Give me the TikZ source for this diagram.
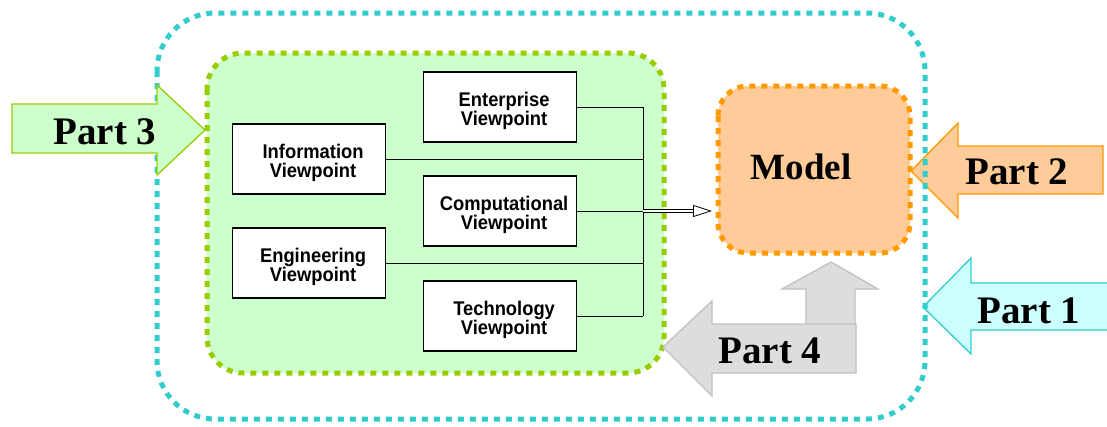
\documentclass[tikz,border=0pt]{standalone}
\usepackage{fontspec}
\usepackage{graphicx}
\setmainfont{Liberation Serif}
\newfontfamily\vpfont{Liberation Sans}
\usetikzlibrary{arrows.meta}

\definecolor{framecyan}{HTML}{33CCCC}
\definecolor{grnline}{HTML}{99CC00}
\definecolor{grnfill}{HTML}{CCFFCC}
\definecolor{orgline}{HTML}{FF9900}
\definecolor{orgfill}{HTML}{FFCC99}
\definecolor{cyanfill}{HTML}{CCFFFF}
\definecolor{greyfill}{HTML}{DDDDDD}
\definecolor{greyline}{HTML}{C0C0C0}

% two-line viewpoint caption, set slightly tall and a little below and right of centre
\newcommand{\vptext}[2]{\raisebox{-4.5pt}[\height][\depth]{\scalebox{1.02}[1.1]{%
  \begin{tabular}{@{\hspace{8pt}}c@{}}#1\\#2\end{tabular}}}}

\tikzset{
  dotframe/.style={line width=5pt, dash pattern=on 6pt off 6pt},
  bigarrow/.style={line width=1.3pt, line join=miter},
  partlabel/.style={font=\bfseries\fontsize{39}{40}\selectfont, anchor=base, inner sep=0pt},
  viewbox/.style={draw=black, fill=white, line width=1.3pt, minimum width=153pt,
    minimum height=70pt, inner sep=0pt, align=center,
    font=\vpfont\bfseries\fontsize{18}{16.5}\selectfont},
  wire/.style={draw=black, line width=0.9pt}
}

\begin{document}
\begin{tikzpicture}[x=1pt, y=-1pt]
\useasboundingbox (0,0) rectangle (1107,426);
\clip (0,0) rectangle (1107,426);

% incoming arrows from the right
\draw[bigarrow, draw=framecyan, fill=cyanfill]
  (1115,283) -- (971,283) -- (971,258) -- (923,307) -- (971,354) -- (971,330) -- (1115,330) -- cycle;
\draw[bigarrow, draw=orgline, fill=orgfill]
  (1103,146) -- (958,146) -- (958,123) -- (911,171) -- (958,218) -- (958,194) -- (1103,194) -- cycle;

% outer frame
\draw[dotframe, draw=framecyan, rounded corners=58pt] (157,13) rectangle (925,419);

% Part 3 arrow
\draw[bigarrow, draw=grnline, fill=grnfill]
  (12,104) -- (157,104) -- (157,85) -- (205,130) -- (157,175) -- (157,153) -- (12,153) -- cycle;

% viewpoint group
\draw[dotframe, draw=grnline, fill=grnfill, rounded corners=36pt] (207,53) rectangle (664,373);

% model
\draw[dotframe, draw=orgline, fill=orgfill, rounded corners=30pt] (718,86) rectangle (910,253);
\node[partlabel, font=\bfseries\fontsize{37}{38}\selectfont] (modeltxt) at (801,179) {Model};

% Part 4 arrow (up branch, then left branch)
\draw[bigarrow, draw=greyline, fill=greyfill]
  (806,335) -- (806,289) -- (782,289) -- (831,262) -- (878,289) -- (855,289) -- (855,335) -- cycle;
\draw[bigarrow, draw=greyline, fill=greyfill]
  (663,347) -- (712,301) -- (712,324) -- (856,324) -- (856,373) -- (712,373) -- (712,396) -- cycle;

% labels of the arrows
\node[partlabel] (p3) at (105,144) {Part 3};
\node[partlabel] (p2) at (1017,184) {Part 2};
\node[partlabel] (p1) at (1029,323) {Part 1};
\node[partlabel] (p4) at (770,363) {Part 4};

% viewpoints
\node[viewbox] (ent)  at (500,107) {\vptext{Enterprise}{Viewpoint}};
\node[viewbox] (inf)  at (309,159) {\vptext{Information}{Viewpoint}};
\node[viewbox] (comp) at (500,211) {\vptext{Computational}{Viewpoint}};
\node[viewbox] (eng)  at (309,263) {\vptext{Engineering}{Viewpoint}};
\node[viewbox] (tech) at (500,316) {\vptext{Technology}{Viewpoint}};

% collecting bus
\coordinate (busT) at (643,107);
\coordinate (busB) at (643,316);
\coordinate (busC) at (643,211);
\coordinate (tip) at (712,211);
\draw[wire] (busT) -- (busB);
\draw[wire] (ent.east) -- (ent.east -| busT);
\draw[wire] (inf.east) -- (inf.east -| busT);
\draw[wire] (comp.east) -- (comp.east -| busT);
\draw[wire] (eng.east) -- (eng.east -| busT);
\draw[wire] (tech.east) -- (tech.east -| busT);

% double shaft with open head towards the model
\draw[line width=0.8pt, double=white, double distance=2.2pt,
  -{Triangle[open, length=19pt, width=12pt, line width=0.8pt]}] (busC) -- (tip);
\end{tikzpicture}
\end{document}
